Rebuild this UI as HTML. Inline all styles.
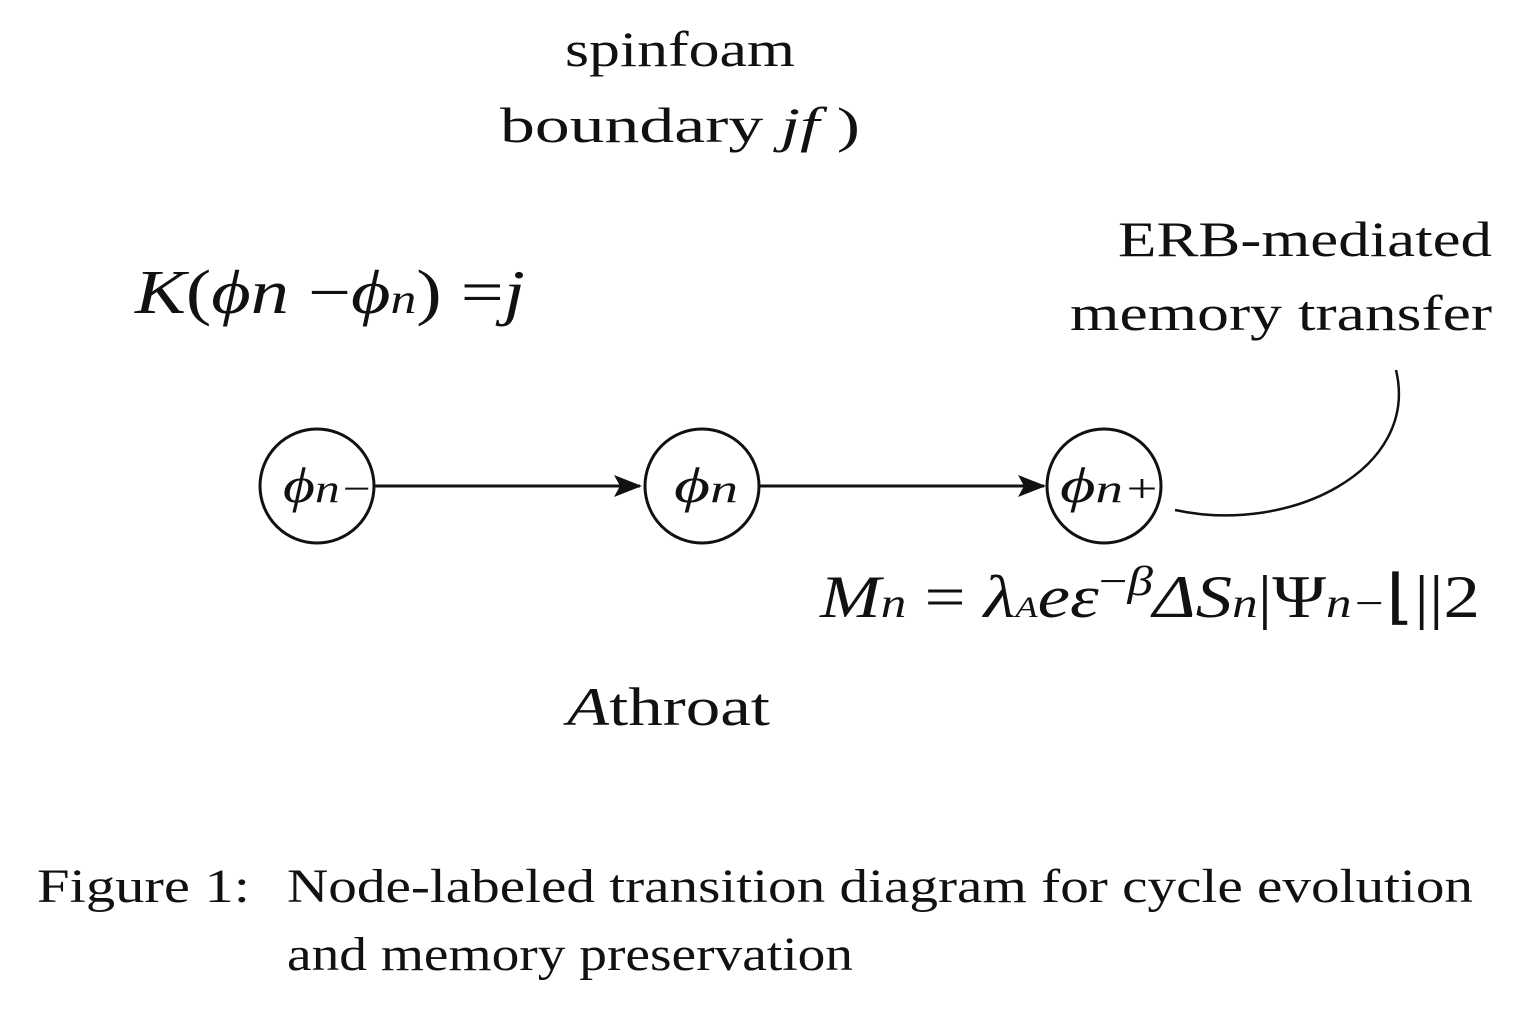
<!DOCTYPE html>
<html><head><meta charset="utf-8"><style>
html,body{margin:0;padding:0;background:#fff;}
svg{display:block;}
text{font-family:"Liberation Serif",serif;fill:#111;}
</style></head><body>
<svg width="1536" height="1024" viewBox="0 0 1536 1024">
<defs><marker id="ah" markerWidth="28" markerHeight="22" refX="26" refY="11" orient="auto" markerUnits="userSpaceOnUse"><path d="M0,0 L28,11 L0,22 L6,11 z" fill="#111"/></marker></defs>
<text x="565" y="66" font-size="50" textLength="230" lengthAdjust="spacingAndGlyphs">spinfoam</text>
<text x="500" y="142" font-size="50" textLength="360" lengthAdjust="spacingAndGlyphs">boundary <tspan font-style="italic">jf</tspan>  )</text>
<text x="135" y="313" font-size="62" textLength="390" lengthAdjust="spacingAndGlyphs"><tspan font-style="italic">K</tspan>(<tspan font-style="italic">ϕn</tspan> −<tspan font-style="italic">ϕ<tspan font-size="42">n</tspan></tspan>) =<tspan font-style="italic">j</tspan></text>
<text x="1118" y="256" font-size="50" textLength="374" lengthAdjust="spacingAndGlyphs">ERB-mediated</text>
<text x="1070" y="330" font-size="50" textLength="422" lengthAdjust="spacingAndGlyphs">memory transfer</text>
<g fill="none" stroke="#111" stroke-width="3">
<circle cx="317" cy="486" r="57"/>
<circle cx="702" cy="486" r="57"/>
<circle cx="1104" cy="486" r="57"/>
<line x1="375" y1="486" x2="640" y2="486" marker-end="url(#ah)"/>
<line x1="760" y1="486" x2="1044" y2="486" marker-end="url(#ah)"/>
<path d="M1175 510 C1290 535 1420 470 1396 370" stroke-width="2.5"/>
</g>
<text x="283" y="502" font-size="50" font-style="italic" textLength="90" lengthAdjust="spacingAndGlyphs">ϕ<tspan font-size="40">n−</tspan></text>
<text x="674" y="502" font-size="50" font-style="italic" textLength="64" lengthAdjust="spacingAndGlyphs">ϕ<tspan font-size="40">n</tspan></text>
<text x="1060" y="502" font-size="50" font-style="italic" textLength="100" lengthAdjust="spacingAndGlyphs">ϕ<tspan font-size="40">n+</tspan></text>
<text x="820" y="617" font-size="60" textLength="660" lengthAdjust="spacingAndGlyphs"><tspan font-style="italic">M<tspan font-size="42">n</tspan></tspan> = <tspan font-style="italic">λ<tspan font-size="30">A</tspan>eε</tspan><tspan dy="-22" font-size="42">−<tspan font-style="italic">β</tspan></tspan><tspan dy="22" font-style="italic">ΔS<tspan font-size="42">n</tspan></tspan>|Ψ<tspan font-size="42" font-style="italic">n−</tspan>⌊||2</text>
<text x="567" y="725" font-size="54" textLength="203" lengthAdjust="spacingAndGlyphs"><tspan font-style="italic">A</tspan>throat</text>
<text x="37" y="902" font-size="48" textLength="213" lengthAdjust="spacingAndGlyphs">Figure 1:</text>
<text x="287" y="902" font-size="48" textLength="1186" lengthAdjust="spacingAndGlyphs">Node-labeled transition diagram for cycle evolution</text>
<text x="287" y="970" font-size="48" textLength="566" lengthAdjust="spacingAndGlyphs">and memory preservation</text>
</svg>
</body></html>
